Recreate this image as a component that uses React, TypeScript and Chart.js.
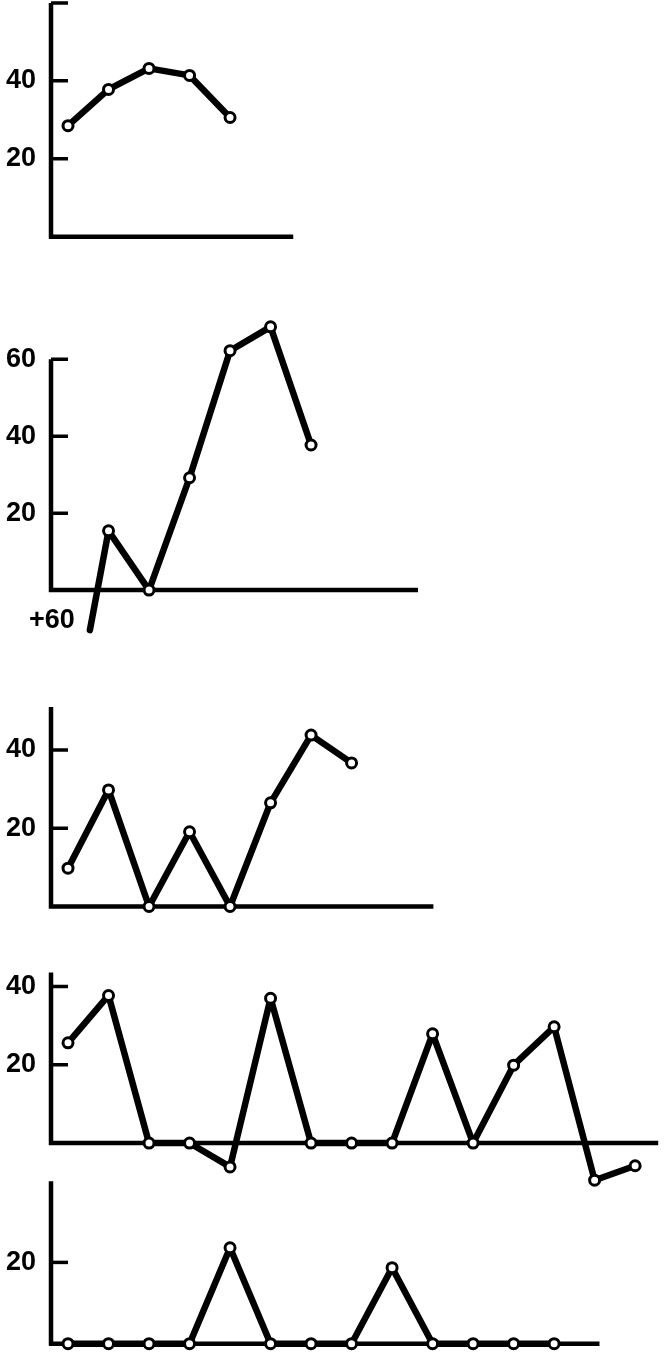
import React, { useEffect, useRef } from "react";
import { Chart, registerables } from "chart.js";

Chart.register(...registerables);

// ---------- Data ----------
// Panel 1
const p1X = [0, 1, 2, 3, 4];
const p1Y = [28.5, 37.8, 43.2, 41.4, 30.6];
const p1Markers = [true, true, true, true, true];
const p1LabelTicks = [20, 40];
const p1MarkTicks = [20, 40, 60];

// Panel 2 (first entry: line coming up from below the axis, no marker)
const p2X = [0.54, 1, 2, 3, 4, 5, 6];
const p2Y = [-10.4, 15.4, 0, 29.2, 62.2, 68.4, 37.7];
const p2Markers = [false, true, true, true, true, true, true];
const p2LabelTicks = [20, 40, 60];
const p2MarkTicks = [20, 40, 60];
const p2Note = "+60";

// Panel 3
const p3X = [0, 1, 2, 3, 4, 5, 6, 7];
const p3Y = [9.8, 29.8, 0, 19.1, 0, 26.5, 43.8, 36.7];
const p3Markers = [true, true, true, true, true, true, true, true];
const p3LabelTicks = [20, 40];
const p3MarkTicks = [20, 40];

// Panel 4
const p4X = [0, 1, 2, 3, 4, 5, 6, 7, 8, 9, 10, 11, 12, 13, 14];
const p4Y = [25.6, 37.7, 0, 0, -6.1, 37.0, 0, 0, 0, 27.9, 0, 19.9, 29.7, -9.5, -5.8];
const p4Markers = p4X.map(() => true);
const p4LabelTicks = [20, 40];
const p4MarkTicks = [20, 40];

// Panel 5
const p5X = [0, 1, 2, 3, 4, 5, 6, 7, 8, 9, 10, 11, 12];
const p5Y = [0, 0, 0, 0, 23.6, 0, 0, 0, 18.7, 0, 0, 0, 0];
const p5Markers = p5X.map(() => true);
const p5LabelTicks = [20];
const p5MarkTicks = [20];

// ---------- Layout / axis ranges ----------
const X_MIN = -0.42;
const X_MAX = 14.91;

const panels = [
  { xs: p1X, ys: p1Y, markers: p1Markers, labelTicks: p1LabelTicks, markTicks: p1MarkTicks,
    axisTop: 60, axisEnd: 5.56, zeroPx: 237.3, k: 3.9, yMin: -8, yMax: 61, note: null },
  { xs: p2X, ys: p2Y, markers: p2Markers, labelTicks: p2LabelTicks, markTicks: p2MarkTicks,
    axisTop: 60, axisEnd: 8.64, zeroPx: 590, k: 3.85, yMin: -14, yMax: 72, note: p2Note },
  { xs: p3X, ys: p3Y, markers: p3Markers, labelTicks: p3LabelTicks, markTicks: p3MarkTicks,
    axisTop: 51, axisEnd: 9.02, zeroPx: 906.7, k: 3.92, yMin: -6, yMax: 52, note: null },
  { xs: p4X, ys: p4Y, markers: p4Markers, labelTicks: p4LabelTicks, markTicks: p4MarkTicks,
    axisTop: 43.6, axisEnd: 14.57, zeroPx: 1143, k: 3.91, yMin: -12, yMax: 46, note: null },
  { xs: p5X, ys: p5Y, markers: p5Markers, labelTicks: p5LabelTicks, markTicks: p5MarkTicks,
    axisTop: 40, axisEnd: 13.12, zeroPx: 1344, k: 4.07, yMin: -5, yMax: 42, note: null },
];

const FONT = { family: "'Liberation Sans', Arial, Helvetica, sans-serif", size: 27, weight: "bold" as const };

function Panel({ cfg }: { cfg: any }) {
  const ref = useRef<HTMLCanvasElement>(null);
  const top = Math.round(cfg.zeroPx - cfg.yMax * cfg.k);
  const height = Math.round((cfg.yMax - cfg.yMin) * cfg.k);

  useEffect(() => {
    const canvas = ref.current!;
    const handAxes = {
      id: "handAxes",
      beforeDatasetsDraw(chart: any) {
        const { ctx, chartArea, scales } = chart;
        const xs = scales.x;
        const ys = scales.y;
        const x0 = chartArea.left;
        const y0 = ys.getPixelForValue(0);
        ctx.save();
        ctx.strokeStyle = "#000";
        ctx.lineWidth = 4.5;
        ctx.lineCap = "butt";
        ctx.beginPath();
        ctx.moveTo(x0, y0 + 2);
        ctx.lineTo(x0, ys.getPixelForValue(cfg.axisTop));
        ctx.moveTo(x0 - 2, y0);
        ctx.lineTo(xs.getPixelForValue(cfg.axisEnd), y0);
        ctx.stroke();
        ctx.lineWidth = 3.5;
        ctx.beginPath();
        for (const v of cfg.markTicks) {
          const py = ys.getPixelForValue(v);
          ctx.moveTo(x0, py);
          ctx.lineTo(x0 + 17, py);
        }
        ctx.stroke();
        ctx.restore();
      },
      afterDatasetsDraw(chart: any) {
        if (!cfg.note) return;
        const { ctx, scales } = chart;
        ctx.save();
        ctx.fillStyle = "#000";
        ctx.font = `bold ${FONT.size}px ${FONT.family}`;
        ctx.textAlign = "right";
        ctx.textBaseline = "middle";
        ctx.fillText(cfg.note, scales.x.getPixelForValue(cfg.xs[0]) - 15, scales.y.getPixelForValue(-8));
        ctx.restore();
      },
    };

    const chart = new Chart(canvas, {
      type: "line",
      data: {
        datasets: [
          {
            data: cfg.xs.map((x: number, i: number) => ({ x, y: cfg.ys[i] })),
            borderColor: "#000",
            borderWidth: 6.5,
            borderJoinStyle: "round",
            borderCapStyle: "round",
            pointRadius: cfg.markers.map((m: boolean) => (m ? 5 : 0)),
            pointBorderWidth: 3,
            pointBackgroundColor: "#fff",
            pointBorderColor: "#000",
            tension: 0,
            fill: false,
            clip: false as any,
          },
        ],
      },
      options: {
        animation: false,
        responsive: false,
        events: [],
        layout: { padding: 0, autoPadding: false } as any,
        plugins: { legend: { display: false }, tooltip: { enabled: false } },
        scales: {
          x: { type: "linear", display: false, min: X_MIN, max: X_MAX },
          y: {
            type: "linear",
            min: cfg.yMin,
            max: cfg.yMax,
            grid: { display: false, drawTicks: false },
            border: { display: false },
            afterBuildTicks: (s: any) => {
              s.ticks = cfg.labelTicks.map((v: number) => ({ value: v }));
            },
            afterFit: (s: any) => {
              s.width = 51;
              s.paddingTop = 0;
              s.paddingBottom = 0;
            },
            ticks: { color: "#000", font: FONT, padding: 15 },
          },
        },
      },
      plugins: [handAxes],
    });
    return () => chart.destroy();
  }, []);

  return (
    <canvas
      ref={ref}
      width={672}
      height={height}
      style={{ position: "absolute", left: 0, top, width: 672, height }}
    />
  );
}

export default function App() {
  return (
    <div style={{ position: "absolute", left: 0, top: 0, width: 672, height: 1367, background: "#fff", overflow: "hidden" }}>
      {panels.map((p, i) => (
        <Panel key={i} cfg={p} />
      ))}
    </div>
  );
}
